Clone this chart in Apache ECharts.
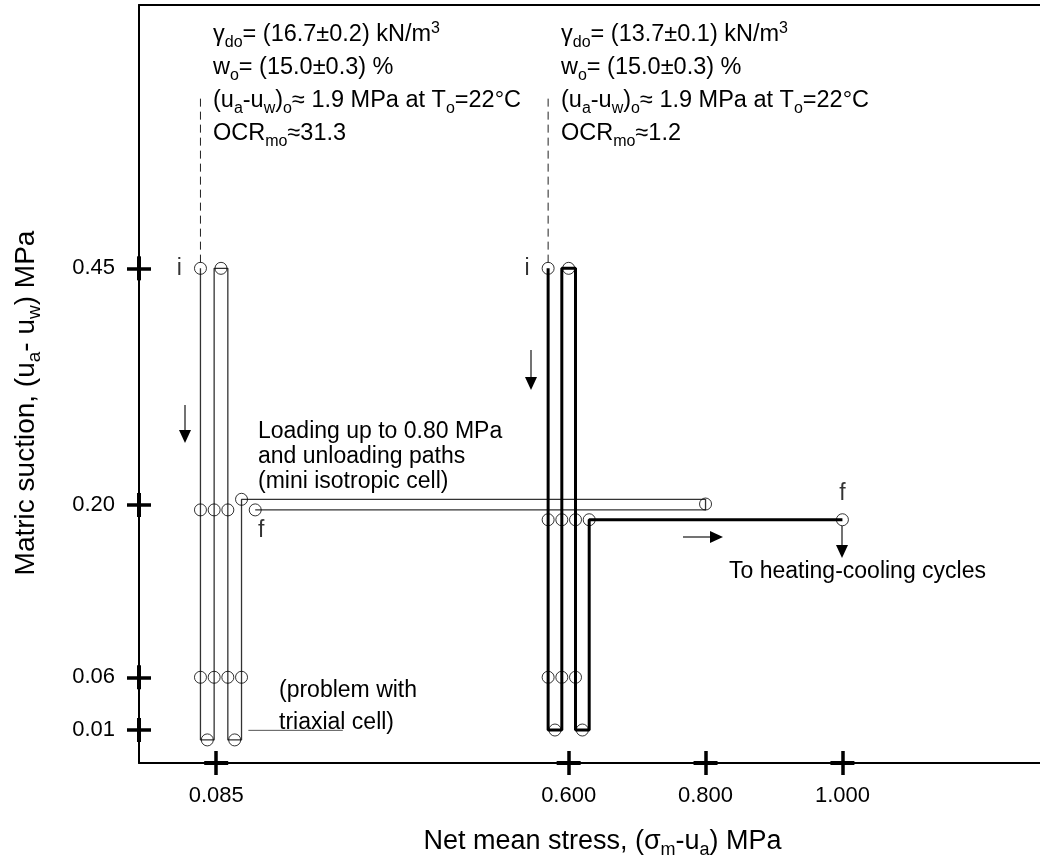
<!DOCTYPE html>
<html>
<head>
<meta charset="utf-8">
<script src="https://cdn.jsdelivr.net/npm/echarts@6/dist/echarts.min.js"></script>
<style>
  html, body { margin: 0; padding: 0; background: #fff; }
  #chart { width: 1040px; height: 859px; }
</style>
</head>
<body>
<div id="chart"></div>
<script>
// ---- data (MPa) ----
// tick values of the two axes
const stressTicks = [0.085, 0.600, 0.800, 1.000];
const suctionTicks = [0.01, 0.06, 0.20, 0.45];

// dense specimen: wetting/drying cycles at 0.085 MPa, then loading to 0.80 MPa and unloading
const densePath = [
  [0.062, 0.45], [0.062, 0.007], [0.082, 0.007], [0.082, 0.45],
  [0.102, 0.45], [0.102, 0.007], [0.122, 0.007], [0.122, 0.206],
  [0.800, 0.206], [0.800, 0.196], [0.142, 0.196]
];
const denseReadings = [
  [0.062, 0.45], [0.092, 0.45],
  [0.062, 0.196], [0.082, 0.196], [0.102, 0.196],
  [0.122, 0.206], [0.800, 0.201], [0.142, 0.196],
  [0.062, 0.06], [0.082, 0.06], [0.102, 0.06], [0.122, 0.06],
  [0.072, 0.007], [0.112, 0.007]
];
const denseStart = [0.062, 0.45];
const denseEnd = [0.142, 0.196];

// loose specimen: wetting/drying cycles at 0.600 MPa, then loading to 1.000 MPa
const loosePath = [
  [0.57, 0.45], [0.57, 0.01], [0.59, 0.01], [0.59, 0.45],
  [0.61, 0.45], [0.61, 0.01], [0.63, 0.01], [0.63, 0.188], [1.00, 0.188]
];
const looseReadings = [
  [0.57, 0.45], [0.60, 0.45],
  [0.57, 0.188], [0.59, 0.188], [0.61, 0.188], [0.63, 0.188], [1.00, 0.188],
  [0.57, 0.06], [0.59, 0.06], [0.61, 0.06],
  [0.58, 0.01], [0.62, 0.01]
];
const looseStart = [0.57, 0.45];
const looseEnd = [1.00, 0.188];

// leader from each start point up to its specimen description, and the triaxial-cell note line
const denseLeader = [[0.062, 0.456], [0.062, 0.63]];
const looseLeader = [[0.57, 0.456], [0.57, 0.63]];
const triaxialNoteLine = [[0.132, 0.0099], [0.27, 0.0099]];

// ---- scales ----
const FONT = '"Liberation Sans", Arial, Helvetica, sans-serif';
const stressRange = { min: -0.0278, max: 1.2887 };

// the suction axis is drawn piecewise-linear: [suction, fraction of plot height]
const suctionAxisKnots = [[0, 0], [0.01, 0.0435], [0.06, 0.1131], [0.20, 0.3404], [0.45, 0.6526]];
function ySc(s) {
  const k = suctionAxisKnots;
  let i = 1;
  while (i < k.length - 1 && s > k[i][0]) i++;
  const a = k[i - 1], b = k[i];
  return a[1] + (s - a[0]) * (b[1] - a[1]) / (b[0] - a[0]);
}
const toPlot = p => [p[0], ySc(p[1])];
const same = (p, q) => p[0] === q[0] && p[1] === q[1];

function readingsData(points, start, end, endLabelPos) {
  return points.map(p => {
    const item = { value: toPlot(p) };
    if (same(p, start)) {
      item.label = { show: true, formatter: 'i', position: 'left', distance: 12 };
    } else if (same(p, end)) {
      item.label = endLabelPos === 'bottom'
        ? { show: true, formatter: 'f', position: 'bottom', distance: 3, offset: [6, 0] }
        : { show: true, formatter: 'f', position: 'top', distance: 8 };
    }
    return item;
  });
}

const circleStyle = { color: 'rgba(0,0,0,0)', borderColor: '#000', borderWidth: 1 };
const markLabel = { fontSize: 23, fontFamily: FONT, color: '#000' };
const TICK_W = 3.5;

const chart = echarts.init(document.getElementById('chart'));

const option = {
  animation: false,
  backgroundColor: '#fff',
  grid: { left: 139, right: 0, top: 5, bottom: 96, containLabel: false, outerBoundsMode: 'none' },
  xAxis: [
    {
      type: 'value', position: 'bottom', min: stressRange.min, max: stressRange.max,
      axisLine: { show: true, onZero: false, lineStyle: { color: '#000', width: 2 } },
      axisTick: { show: true, customValues: stressTicks, length: 12, lineStyle: { color: '#000', width: TICK_W } },
      axisLabel: {
        show: true, customValues: stressTicks, margin: 22,
        formatter: v => v.toFixed(3), fontSize: 22, fontFamily: FONT, color: '#000'
      },
      splitLine: { show: false },
      name: 'Net mean stress, (σ{sub|m}-u{sub|a}) MPa',
      nameLocation: 'middle', nameGap: 62,
      nameTextStyle: {
        fontSize: 27, fontFamily: FONT, color: '#000', padding: [0, 0, 0, 26],
        rich: { sub: { fontSize: 18, fontFamily: FONT, color: '#000', padding: [16, 0, 0, 0] } }
      }
    },
    {
      type: 'value', position: 'bottom', min: stressRange.min, max: stressRange.max,
      axisLine: { show: false, onZero: false },
      axisTick: { show: true, inside: true, customValues: stressTicks, length: 12, lineStyle: { color: '#000', width: TICK_W } },
      axisLabel: { show: false }, splitLine: { show: false }
    },
    {
      type: 'value', position: 'top', min: stressRange.min, max: stressRange.max,
      axisLine: { show: true, onZero: false, lineStyle: { color: '#000', width: 2 } },
      axisTick: { show: false }, axisLabel: { show: false }, splitLine: { show: false }
    }
  ],
  yAxis: [
    {
      type: 'value', position: 'left', min: 0, max: 1,
      axisLine: { show: true, onZero: false, lineStyle: { color: '#000', width: 2 } },
      axisTick: { show: true, customValues: suctionTicks.map(ySc), length: 12, lineStyle: { color: '#000', width: TICK_W } },
      axisLabel: {
        show: true, customValues: suctionTicks.map(ySc), margin: 24,
        formatter: v => {
          const t = suctionTicks.find(s => Math.abs(ySc(s) - v) < 1e-6);
          return t == null ? '' : t.toFixed(2);
        },
        fontSize: 22, fontFamily: FONT, color: '#000'
      },
      splitLine: { show: false },
      name: 'Matric suction, (u{sub|a}- u{sub|w}) MPa',
      nameLocation: 'middle', nameGap: 95,
      nameTextStyle: {
        fontSize: 28, fontFamily: FONT, color: '#000', padding: [0, 38, 0, 0],
        rich: { sub: { fontSize: 19, fontFamily: FONT, color: '#000', padding: [17, 0, 0, 0] } }
      }
    },
    {
      type: 'value', position: 'left', min: 0, max: 1,
      axisLine: { show: false, onZero: false },
      axisTick: { show: true, inside: true, customValues: suctionTicks.map(ySc), length: 12, lineStyle: { color: '#000', width: TICK_W } },
      axisLabel: { show: false }, splitLine: { show: false }
    }
  ],
  series: [
    {
      name: 'dense leader', type: 'line', data: denseLeader.map(toPlot), showSymbol: false, symbol: 'none',
      lineStyle: { color: '#222', width: 1, type: [8, 5] }, silent: true, z: 1
    },
    {
      name: 'loose leader', type: 'line', data: looseLeader.map(toPlot), showSymbol: false, symbol: 'none',
      lineStyle: { color: '#222', width: 1, type: [8, 5] }, silent: true, z: 1
    },
    {
      name: 'triaxial note', type: 'line', data: triaxialNoteLine.map(toPlot), showSymbol: false, symbol: 'none',
      lineStyle: { color: '#555', width: 1 }, silent: true, z: 1
    },
    {
      name: 'dense path', type: 'line', data: densePath.map(toPlot), showSymbol: false, symbol: 'none',
      lineStyle: { color: '#333', width: 1.3 }, silent: true, z: 2
    },
    {
      name: 'loose path', type: 'line', data: loosePath.map(toPlot), showSymbol: false, symbol: 'none',
      lineStyle: { color: '#000', width: 3 }, silent: true, z: 2
    },
    {
      name: 'dense readings', type: 'scatter', symbol: 'circle', symbolSize: 12,
      data: readingsData(denseReadings, denseStart, denseEnd, 'bottom'),
      itemStyle: circleStyle, label: markLabel, silent: true, z: 3
    },
    {
      name: 'loose readings', type: 'scatter', symbol: 'circle', symbolSize: 12,
      data: readingsData(looseReadings, looseStart, looseEnd, 'top'),
      itemStyle: circleStyle, label: markLabel, silent: true, z: 3
    }
  ]
};
chart.setOption(option);

// ---- annotations ----
const NOTE_SIZE = 23.5;
const noteRich = {
  n: { fontSize: NOTE_SIZE, fontFamily: FONT, fill: '#000', lineHeight: 30 },
  sub: { fontSize: 16, fontFamily: FONT, fill: '#000', lineHeight: 30, padding: [16, 0, 0, 0] },
  sup: { fontSize: 16, fontFamily: FONT, fill: '#000', lineHeight: 30, padding: [0, 0, 13, 0] }
};
function specimenNote(x, gamma, ocr) {
  const lines = [
    '{n|γ}{sub|do}{n|= (' + gamma + ') kN/m}{sup|3}',
    '{n|w}{sub|o}{n|= (15.0±0.3) %}',
    '{n|(u}{sub|a}{n|-u}{sub|w}{n|)}{sub|o}{n|≈ 1.9 MPa at T}{sub|o}{n|=22°C}',
    '{n|OCR}{sub|mo}{n|≈' + ocr + '}'
  ];
  return lines.map((t, i) => ({
    type: 'text', x: x, y: 35 + i * 33, silent: true,
    style: { text: t, rich: noteRich, fontSize: NOTE_SIZE, fontFamily: FONT, fill: '#000', align: 'left', verticalAlign: 'middle', lineHeight: 30 }
  }));
}
function plainText(x, y, text, lineHeight) {
  return {
    type: 'text', x: x, y: y, silent: true,
    style: { text: text, fontSize: 23, fontFamily: FONT, fill: '#000', align: 'left', verticalAlign: 'top', lineHeight: lineHeight }
  };
}
function arrow(x1, y1, x2, y2) {
  const dx = x2 - x1, dy = y2 - y1, len = Math.hypot(dx, dy);
  const ux = dx / len, uy = dy / len, hl = 13, hw = 6;
  const bx = x2 - ux * hl, by = y2 - uy * hl;
  return [
    { type: 'line', silent: true, shape: { x1: x1, y1: y1, x2: bx, y2: by }, style: { stroke: '#444', lineWidth: 1.5 } },
    { type: 'polygon', silent: true, shape: { points: [[x2, y2], [bx - uy * hw, by + ux * hw], [bx + uy * hw, by - ux * hw]] }, style: { fill: '#000' } }
  ];
}

// thicken the axis line along each tick so every tick reads as a cross
const gridRect = chart.getModel().getComponent('grid', 0).coordinateSystem.getRect();
const crossBars = [];
stressTicks.forEach(v => {
  const px = chart.convertToPixel({ xAxisIndex: 0 }, v);
  crossBars.push({ type: 'rect', silent: true, z: 10,
    shape: { x: px - 12, y: gridRect.y + gridRect.height - 2, width: 24, height: 4 }, style: { fill: '#000' } });
});
suctionTicks.forEach(s => {
  const py = chart.convertToPixel({ yAxisIndex: 0 }, ySc(s));
  crossBars.push({ type: 'rect', silent: true, z: 10,
    shape: { x: gridRect.x - 2, y: py - 12, width: 4, height: 24 }, style: { fill: '#000' } });
});

const graphics = []
  .concat(crossBars)
  .concat(specimenNote(213, '16.7±0.2', '31.3'))
  .concat(specimenNote(561, '13.7±0.1', '1.2'))
  .concat([
    plainText(258, 419, 'Loading up to 0.80 MPa\nand unloading paths\n(mini isotropic cell)', 25),
    plainText(279, 675, '(problem with\ntriaxial cell)', 32),
    plainText(729, 559, 'To heating-cooling cycles', 26)
  ])
  .concat(arrow(185, 405, 185, 443))
  .concat(arrow(531, 350, 531, 390))
  .concat(arrow(683, 537, 723, 537))
  .concat(arrow(842, 526, 842, 558));

chart.setOption({ graphic: graphics });
</script>
</body>
</html>
